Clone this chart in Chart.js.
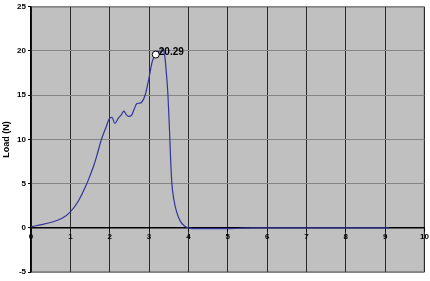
<!DOCTYPE html>
<html>
<head>
<meta charset="utf-8">
<script src="https://cdn.jsdelivr.net/npm/chart.js@4/dist/chart.umd.min.js"></script>
<style>
  html, body { margin: 0; padding: 0; background: #fff; }
  #wrap { width: 430px; height: 281px; }
</style>
</head>
<body>
<div id="wrap"><canvas id="myChart" width="430" height="281"></canvas></div>
<script>
// dane
var displacement = [0, 0.2, 0.5, 0.8, 1.0, 1.2, 1.4, 1.5, 1.6, 1.7, 1.79, 1.9, 2.0, 2.06, 2.13, 2.22, 2.3, 2.36, 2.42, 2.48, 2.55, 2.62, 2.68, 2.75, 2.81, 2.9, 3.0, 3.08, 3.17, 3.25, 3.3, 3.34, 3.4, 3.44, 3.48, 3.52, 3.55, 3.58, 3.63, 3.7, 3.8, 3.9, 4.0, 4.2, 4.6, 5.0, 5.6, 6.0, 7.0, 8.0, 9.1];
var load = [0.1, 0.3, 0.6, 1.1, 1.8, 3.0, 4.8, 5.9, 7.1, 8.6, 10.0, 11.3, 12.4, 12.5, 11.8, 12.4, 12.8, 13.2, 12.8, 12.6, 12.7, 13.4, 14.0, 14.1, 14.2, 15.0, 17.0, 18.8, 19.6, 20.0, 19.9, 20.29, 19.4, 17.5, 15.0, 11.0, 7.5, 5.0, 3.2, 1.8, 0.7, 0.2, 0.0, -0.1, -0.1, -0.1, 0.0, 0.0, 0.0, 0.0, 0.0];
var markerX = 3.17;
var markerY = 19.6;
var markerLabel = '20.29';
var xTicks = [0, 1, 2, 3, 4, 5, 6, 7, 8, 9, 10];
var yTicks = [-5, 0, 5, 10, 15, 20, 25];

var points = displacement.map(function (x, i) {
    return { x: x, y: load[i] };
});

// tło obszaru wykresu
var plotBg = {
    id: 'plotBg',
    beforeDraw: function (chart) {
        var a = chart.chartArea;
        var c = chart.ctx;
        c.save();
        c.fillStyle = '#c0c0c0';
        c.fillRect(a.left, a.top, a.right - a.left, a.bottom - a.top);
        c.strokeStyle = '#8a8a8a';
        c.lineWidth = 1;
        c.strokeRect(a.left + 0.5, a.top + 0.5, a.right - a.left - 1, a.bottom - a.top - 1);
        c.restore();
    }
};

// etykieta wartości szczytowej
var peakLabel = {
    id: 'peakLabel',
    afterDatasetsDraw: function (chart) {
        var c = chart.ctx;
        var px = chart.scales.x.getPixelForValue(markerX);
        var py = chart.scales.y.getPixelForValue(markerY);
        c.save();
        c.font = 'bold 10px "Liberation Sans", Arial, sans-serif';
        c.fillStyle = '#000';
        c.textBaseline = 'middle';
        c.fillText(markerLabel, px + 3, py - 2);
        c.restore();
    }
};

var ctx = document.getElementById('myChart').getContext('2d');

var chart = new Chart(ctx, {
    type: 'scatter',
    data: {
        datasets: [{
            label: 'Load',
            data: points,
            showLine: true,
            borderColor: '#333399',
            borderWidth: 1.2,
            pointRadius: 0,
            cubicInterpolationMode: 'monotone',
            order: 2
        },
        {
            label: 'Peak',
            data: [{ x: markerX, y: markerY }],
            pointRadius: 3.5,
            pointBackgroundColor: '#ffffff',
            pointBorderColor: '#000000',
            pointBorderWidth: 1,
            order: 1
        }]
    },
    options: {
        responsive: false,
        animation: false,
        layout: { padding: { top: 3, right: 5, bottom: 9, left: 0 } },
        plugins: {
            legend: { display: false },
            tooltip: { enabled: false }
        },
        scales: {
            x: {
                type: 'linear',
                min: 0,
                max: 10,
                position: { y: 0 },
                afterBuildTicks: function (scale) {
                    scale.ticks = xTicks.map(function (v) { return { value: v }; });
                },
                grid: {
                    color: '#2a2a2a',
                    lineWidth: 1,
                    drawTicks: true,
                    tickLength: 3,
                    tickColor: '#000'
                },
                border: { display: true, color: '#000', width: 1.5 },
                ticks: {
                    color: '#000',
                    padding: 1,
                    maxRotation: 0,
                    font: { family: '"Liberation Sans", Arial, sans-serif', size: 8, weight: 'bold' }
                }
            },
            y: {
                type: 'linear',
                min: -5,
                max: 25,
                afterBuildTicks: function (scale) {
                    scale.ticks = yTicks.map(function (v) { return { value: v }; });
                },
                afterFit: function (scale) {
                    scale.width = 31;
                },
                grid: {
                    color: '#858585',
                    lineWidth: 1,
                    drawTicks: true,
                    tickLength: 3,
                    tickColor: '#000'
                },
                border: { display: true, color: '#000', width: 1.5 },
                title: {
                    display: true,
                    text: 'Load (N)',
                    color: '#000',
                    padding: 1,
                    font: { family: '"Liberation Sans", Arial, sans-serif', size: 9, weight: 'bold' }
                },
                ticks: {
                    color: '#000',
                    padding: 2,
                    font: { family: '"Liberation Sans", Arial, sans-serif', size: 8, weight: 'bold' }
                }
            }
        }
    },
    plugins: [plotBg, peakLabel]
});
</script>
</body>
</html>
